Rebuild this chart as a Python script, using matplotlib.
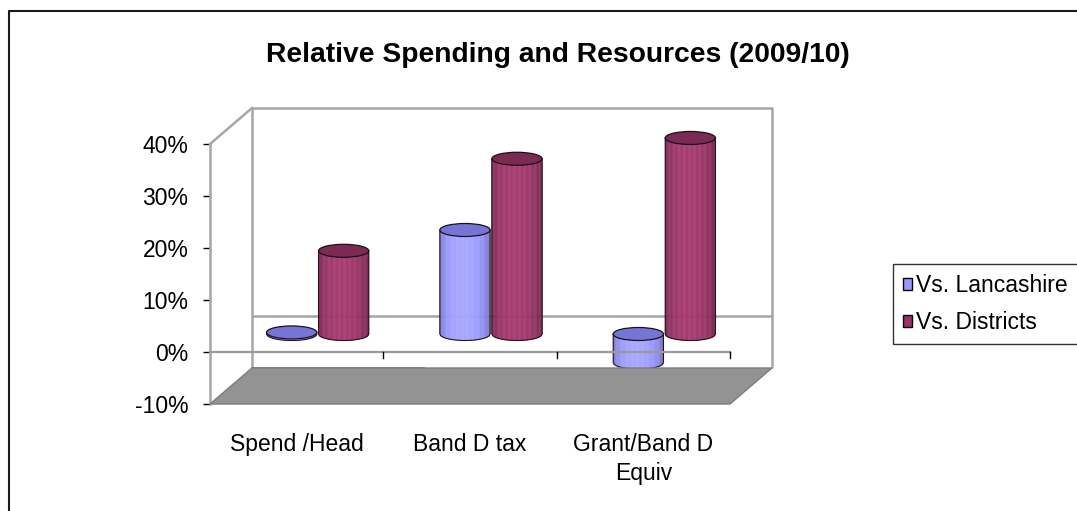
import numpy as np
import matplotlib
matplotlib.use("Agg")
import matplotlib.pyplot as plt
import matplotlib.transforms as mtransforms
from matplotlib.patches import Ellipse, Polygon, Patch
from matplotlib.collections import PolyCollection
from matplotlib.lines import Line2D

# ---- data ----
categories = ["Spend /Head", "Band D tax", "Grant/Band D\nEquiv"]
series_names = ["Vs. Lancashire", "Vs. Districts"]
vs_lancashire = [0.3, 20.0, -5.5]
vs_districts = [16.0, 33.7, 37.7]
y_ticks = [-10, 0, 10, 20, 30, 40]
y_tick_labels = ["-10%", "0%", "10%", "20%", "30%", "40%"]
title = "Relative Spending and Resources (2009/10)"

# ---- style ----
W, H, DPI = 1077, 511, 100
plt.rcParams["font.family"] = ["Liberation Sans", "DejaVu Sans"]
FS = 16.5
side_colors = ["#9999FF", "#993366"]
top_colors = ["#7575D6", "#7B2A52"]
wall_line = "#A6A6A6"
floor_color = "#939393"

fig = plt.figure(figsize=(W / DPI, H / DPI), dpi=DPI)
fig.patch.set_facecolor("white")

# front plane of the 3-D box
ax = fig.add_axes([210 / W, (H - 404) / H, 520 / W, 260 / H])
ax.set_xlim(0, len(categories))
ax.set_ylim(y_ticks[0], y_ticks[-1])
ax.patch.set_visible(False)

depth_dx, depth_dy = 42, 36
back = mtransforms.offset_copy(ax.transData, fig=fig, x=depth_dx, y=depth_dy, units="dots")
mid = mtransforms.offset_copy(ax.transData, fig=fig, x=depth_dx / 2, y=depth_dy / 2, units="dots")

x0, x1 = ax.get_xlim()
ymin, ymax = ax.get_ylim()

# floor: parallelogram between the front and back bottom edges
floor_front = np.array([[x0, ymin], [x1, ymin]])
front_pts = ax.transData.transform(floor_front)
back_pts = back.transform(floor_front)
floor_poly = Polygon(np.vstack([front_pts, back_pts[::-1]]), closed=True,
                     transform=None, facecolor=floor_color, edgecolor="#7d7d7d",
                     linewidth=1.0, zorder=1)
fig.add_artist(floor_poly)

# back wall and side wall edges
kw = dict(color=wall_line, linewidth=1.8, solid_capstyle="butt", zorder=2)
ax.plot([x0, x1, x1], [ymax, ymax, ymin], transform=back, clip_on=False, **kw)
ax.plot([x0, x0], [ymax, ymin], transform=back, clip_on=False, **kw)
ax.plot([x0, x1], [0, 0], transform=back, clip_on=False, **kw)
ax.plot([x0, x1 * 0.33], [ymin, ymin], transform=back, clip_on=False,
        color="#6f6f6f", linewidth=1.2, zorder=2)
# diagonal edge joining the front and back top corners
p_front = ax.transData.transform((x0, ymax))
p_back = back.transform((x0, ymax))
fig.add_artist(Line2D([p_front[0], p_back[0]], [p_front[1], p_back[1]],
                      transform=None, color=wall_line, linewidth=1.8, zorder=2))


def shade(base, t):
    f = 0.6 + 0.52 * np.sin(np.pi * t) ** 0.35 * (1 - 0.15 * t)
    rgb = np.array(matplotlib.colors.to_rgb(base))
    return np.clip(rgb * f, 0, 1)


def cylinder(xc, value, width, b, side, top, z):
    ytop = max(value, 0.0)
    ybot = min(value, 0.0)
    n = 60
    u = np.linspace(-1, 1, n + 1)
    xs = xc + u * width / 2
    lower = ybot - b * np.sqrt(np.clip(1 - u ** 2, 0, 1))
    if ytop - ybot > 0.05:
        quads, cols = [], []
        for i in range(n):
            quads.append([(xs[i], ytop), (xs[i + 1], ytop),
                          (xs[i + 1], lower[i + 1]), (xs[i], lower[i])])
            cols.append(shade(side, (i + 0.5) / n))
        pc = PolyCollection(quads, facecolors=cols, edgecolors=cols, linewidths=0.3,
                            transform=mid, zorder=z, clip_on=False)
        ax.add_collection(pc)
        outline_x = np.concatenate([[xs[0]], xs, [xs[-1]]])
        outline_y = np.concatenate([[ytop], lower, [ytop]])
        ax.plot(outline_x, outline_y, color="#2a1020", linewidth=0.8,
                transform=mid, zorder=z + 0.1, clip_on=False)
    e = Ellipse((xc, ytop), width, 2 * b, facecolor=top, edgecolor="#1e0f1a",
                linewidth=0.9, transform=mid, zorder=z + 0.2, clip_on=False)
    ax.add_patch(e)


bar_w = 0.29
half = 0.15
ell_b = 1.25
series = [vs_lancashire, vs_districts]
for i in range(len(categories)):
    for s, vals in enumerate(series):
        xc = i + 0.5 + (s - 0.5) * 2 * half
        cylinder(xc, vals[i], bar_w, ell_b, side_colors[s], top_colors[s], 3 + i + s * 0.5)

# front zero line and category separators
ax.plot([x0, x1], [0, 0], color="#9a9a9a", linewidth=1.6, zorder=10, clip_on=False)
sep = mtransforms.offset_copy(ax.transData, fig=fig, x=0, y=-6, units="dots")
for k in range(1, len(categories) + 1):
    pa = ax.transData.transform((k, 0))
    pb = sep.transform((k, 0))
    fig.add_artist(Line2D([pa[0], pb[0]], [pa[1], pb[1]], transform=None,
                          color="black", linewidth=1.0, zorder=11))

# axes
for side_name in ["top", "right", "bottom"]:
    ax.spines[side_name].set_visible(False)
ax.spines["left"].set_color(wall_line)
ax.spines["left"].set_linewidth(1.8)
ax.spines["left"].set_zorder(2)
ax.set_yticks(y_ticks)
ax.set_yticklabels(y_tick_labels, fontsize=FS)
ax.tick_params(axis="y", direction="out", length=5, width=1.0, color="black", pad=10.5)
ax.set_xticks([i + 0.5 for i in range(len(categories))])
ax.set_xticklabels(categories, fontsize=FS, linespacing=1.3)
ax.tick_params(axis="x", length=0, pad=21)

# title
fig.text(558 / W, 1 - 55 / H, title, ha="center", va="center",
         fontsize=20.3, fontweight="bold")

# legend
handles = [Patch(facecolor=c, edgecolor="black", linewidth=1.0) for c in side_colors]
leg = fig.legend(handles, series_names, loc="upper left",
                 bbox_to_anchor=(893 / W, 1 - 264 / H), borderaxespad=0,
                 fontsize=FS, frameon=True, fancybox=False, edgecolor="black",
                 handlelength=0.4, handleheight=0.4, handletextpad=0.15,
                 borderpad=0.45, labelspacing=0.6)
leg.get_frame().set_linewidth(1.0)

# outer chart-area border (left and top edges)
fig.add_artist(Line2D([9, 9, W + 5], [-5, H - 11, H - 11], transform=None,
                      color="#1a1a1a", linewidth=1.5))

fig.savefig("out.png", dpi=DPI, facecolor="white")
